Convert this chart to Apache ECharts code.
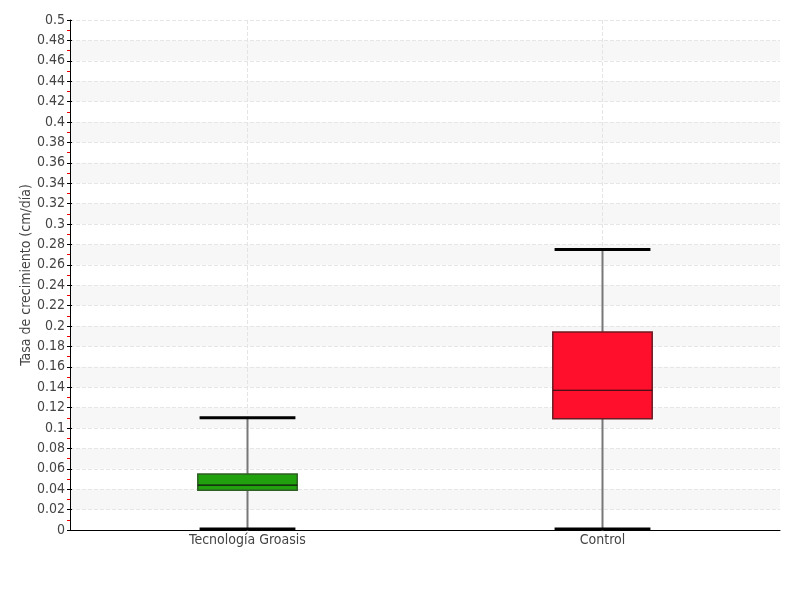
<!DOCTYPE html>
<html><head><meta charset="utf-8">
<script src="https://cdn.jsdelivr.net/npm/echarts@6/dist/echarts.min.js"></script>
<style>html,body{margin:0;padding:0;background:#fff}#c{width:800px;height:600px}</style>
</head><body><div id="c"></div>
<script>
const categories = ['Tecnología Groasis', 'Control'];
const mins    = [0.001, 0.001];
const q1s     = [0.039, 0.109];
const medians = [0.044, 0.137];
const q3s     = [0.055, 0.194];
const maxs    = [0.110, 0.275];
const fills   = ['#21a10e', '#ff0f2b'];
const borders = ['#2f5f24', '#6b1b22'];

const FONT = '"DejaVu Sans Condensed","Liberation Sans Narrow","Roboto",sans-serif';
const data = categories.map((c, i) => [i, mins[i], q1s[i], medians[i], q3s[i], maxs[i]]);

const chart = echarts.init(document.getElementById('c'));
chart.setOption({
  animation: false,
  grid: {left: 70, right: 20, top: 20, bottom: 70},
  xAxis: {
    type: 'category', data: categories,
    axisLine: {lineStyle: {color: '#000', width: 1}},
    axisTick: {show: false},
    axisLabel: {color: '#444', fontSize: 14, fontFamily: FONT, margin: 3},
    splitLine: {show: true, alignWithLabel: true, lineStyle: {type: 'dashed', color: '#e4e4e4'}}
  },
  yAxis: [{
    type: 'value', min: 0, max: 0.5, interval: 0.02,
    name: 'Tasa de crecimiento (cm/día)', nameLocation: 'middle', nameGap: 37,
    nameMoveOverlap: false,
    nameTextStyle: {color: '#444', fontSize: 14, fontFamily: FONT},
    axisLine: {show: true, lineStyle: {color: '#000'}},
    axisTick: {show: true, length: 3, lineStyle: {color: '#000'}},
    minorTick: {show: true, splitNumber: 2, length: 3, lineStyle: {color: '#e00'}},
    axisLabel: {color: '#444', fontSize: 14, fontFamily: FONT, margin: 5},
    splitLine: {show: true, lineStyle: {type: 'dashed', color: '#e6e6e6'}},
    splitArea: {show: true, areaStyle: {color: ['rgba(0,0,0,0)', '#f7f7f7']}}
  }, {
    type: 'value', min: 0, max: 0.5, interval: 0.02, position: 'left',
    axisLine: {show: false},
    axisTick: {show: true, inside: true, length: 2, lineStyle: {color: '#000'}},
    axisLabel: {show: false}, splitLine: {show: false}
  }],
  series: [{
    type: 'custom',
    data: data,
    encode: {x: 0, y: [1, 2, 3, 4, 5]},
    renderItem: function (params, api) {
      const i = api.value(0);
      const band = api.size([1, 0])[0];
      const bw = band * 0.28, cw = band * 0.27;
      const pMin = api.coord([i, api.value(1)]);
      const pQ1 = api.coord([i, api.value(2)]);
      const pMed = api.coord([i, api.value(3)]);
      const pQ3 = api.coord([i, api.value(4)]);
      const pMax = api.coord([i, api.value(5)]);
      const x = pMin[0];
      const whisk = {stroke: '#777', lineWidth: 2};
      const cap = {stroke: '#000', lineWidth: 3};
      return {type: 'group', children: [
        {type: 'line', shape: {x1: x, y1: pMax[1], x2: x, y2: pQ3[1]}, style: whisk},
        {type: 'line', shape: {x1: x, y1: pQ1[1], x2: x, y2: pMin[1] + 2}, style: whisk},
        {type: 'line', shape: {x1: x - cw / 2, y1: pMax[1], x2: x + cw / 2, y2: pMax[1]}, style: cap},
        {type: 'line', shape: {x1: x - cw / 2, y1: pMin[1], x2: x + cw / 2, y2: pMin[1]}, style: cap},
        {type: 'rect', shape: {x: x - bw / 2, y: pQ3[1], width: bw, height: pQ1[1] - pQ3[1]},
          style: {fill: fills[i], stroke: borders[i], lineWidth: 1.5}},
        {type: 'line', shape: {x1: x - bw / 2, y1: pMed[1], x2: x + bw / 2, y2: pMed[1]},
          style: {stroke: '#111', lineWidth: 1.2}}
      ]};
    }
  }]
});
</script></body></html>
